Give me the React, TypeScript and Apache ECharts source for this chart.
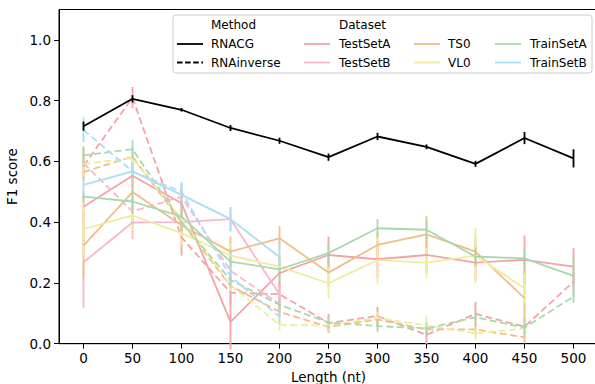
import React, { useEffect, useRef } from "react";
import * as echarts from "echarts";

const lengths = [0, 50, 100, 150, 200, 250, 300, 350, 400, 450, 500];
const yTicks = [0, 0.2, 0.4, 0.6, 0.8, 1.0];

const overallRNACG = [0.716, 0.806, 0.77, 0.71, 0.668, 0.614, 0.682, 0.648, 0.592, 0.677, 0.61];
const overallRNACGErr = [0.015, 0.012, 0.006, 0.01, 0.01, 0.012, 0.012, 0.008, 0.01, 0.02, 0.03];

const testSetA_RNACG = [0.451, 0.553, 0.462, 0.072, 0.232, 0.292, 0.278, 0.292, 0.267, 0.276, 0.254];
const testSetA_RNACGErr = [0.04, 0.04, 0.04, 0.09, 0.05, 0.06, 0.06, 0.06, 0.06, 0.08, 0.06];
const testSetA_RNAinv = [0.585, 0.81, 0.35, 0.168, 0.163, 0.068, 0.091, 0.029, 0.098, 0.056, 0.204];
const testSetA_RNAinvErr = [0.04, 0.035, 0.06, 0.04, 0.04, 0.03, 0.03, 0.03, 0.04, 0.03, 0.03];

const testSetB_RNACG = [0.268, 0.399, 0.4, 0.41, 0.163];
const testSetB_RNACGErr = [0.15, 0.055, 0.04, 0.04, 0.03];
const testSetB_RNAinv = [0.594, 0.435, 0.484, 0.24, 0.13];
const testSetB_RNAinvErr = [0.05, 0.04, 0.04, 0.04, 0.04];

const ts0_RNACG = [0.323, 0.499, 0.39, 0.303, 0.347, 0.234, 0.325, 0.36, 0.303, 0.15];
const ts0_RNACGErr = [0.11, 0.05, 0.04, 0.05, 0.04, 0.05, 0.04, 0.06, 0.05, 0.1];
const ts0_RNAinv = [0.565, 0.616, 0.4, 0.19, 0.105, 0.055, 0.08, 0.047, 0.047, 0.021];
const ts0_RNAinvErr = [0.03, 0.03, 0.03, 0.02, 0.02, 0.02, 0.02, 0.02, 0.02, 0.02];

const vl0_RNACG = [0.377, 0.422, 0.364, 0.29, 0.254, 0.199, 0.275, 0.267, 0.29, 0.182];
const vl0_RNACGErr = [0.1, 0.05, 0.04, 0.04, 0.04, 0.05, 0.08, 0.05, 0.09, 0.05];
const vl0_RNAinv = [0.592, 0.61, 0.41, 0.193, 0.062, 0.06, 0.085, 0.06, 0.034, 0.05];
const vl0_RNAinvErr = [0.05, 0.03, 0.03, 0.02, 0.02, 0.02, 0.02, 0.03, 0.02, 0.02];

const trainSetA_RNACG = [0.484, 0.468, 0.418, 0.27, 0.245, 0.298, 0.38, 0.375, 0.287, 0.281, 0.223];
const trainSetA_RNACGErr = [0.02, 0.04, 0.04, 0.04, 0.04, 0.03, 0.03, 0.03, 0.03, 0.03, 0.065];
const trainSetA_RNAinv = [0.62, 0.64, 0.4, 0.21, 0.128, 0.07, 0.058, 0.05, 0.087, 0.053, 0.155];
const trainSetA_RNAinvErr = [0.03, 0.03, 0.03, 0.02, 0.02, 0.02, 0.02, 0.02, 0.02, 0.02, 0.02];

const trainSetB_RNACG = [0.523, 0.567, 0.49, 0.41, 0.285];
const trainSetB_RNACGErr = [0.03, 0.03, 0.04, 0.04, 0.05];
const trainSetB_RNAinv = [0.704, 0.567, 0.5, 0.221, 0.089];
const trainSetB_RNAinvErr = [0.04, 0.03, 0.03, 0.03, 0.025];

const datasetNames = ["TestSetA", "TestSetB", "TS0", "VL0", "TrainSetA", "TrainSetB"];
const datasetColors = ["#F4A3A8", "#F7B6CF", "#F0BE88", "#F0EC9E", "#A9D8AE", "#ABDDF3"];

const FONT = "DejaVu Sans";

function pairs(vals: number[], errs: number[]) {
  return vals.map((v, i) => [lengths[i], v, errs[i]]);
}

function lineSeries(name: string, color: string, vals: number[], errs: number[], dashed: boolean, width: number, z: number) {
  const data = pairs(vals, errs);
  return [
    {
      type: "line",
      name,
      data: data.map((d) => [d[0], d[1]]),
      symbol: "none",
      lineStyle: { color, width, type: dashed ? [7, 3.5] : "solid" },
      z,
      silent: true,
    },
    {
      type: "custom",
      name: name + " err",
      data,
      z,
      silent: true,
      renderItem: (params: any, api: any) => {
        const x = api.value(0);
        const y = api.value(1);
        const e = api.value(2);
        const p1 = api.coord([x, y - e]);
        const p2 = api.coord([x, y + e]);
        return {
          type: "line",
          shape: { x1: p1[0], y1: p1[1], x2: p2[0], y2: p2[1] },
          style: { stroke: color, lineWidth: width },
        };
      },
    },
  ];
}

export default function App() {
  const ref = useRef<HTMLDivElement>(null);
  useEffect(() => {
    if (!ref.current) return;
    const chart = echarts.init(ref.current, null, { renderer: "svg" });

    const sets = [
      [testSetA_RNACG, testSetA_RNACGErr, testSetA_RNAinv, testSetA_RNAinvErr],
      [testSetB_RNACG, testSetB_RNACGErr, testSetB_RNAinv, testSetB_RNAinvErr],
      [ts0_RNACG, ts0_RNACGErr, ts0_RNAinv, ts0_RNAinvErr],
      [vl0_RNACG, vl0_RNACGErr, vl0_RNAinv, vl0_RNAinvErr],
      [trainSetA_RNACG, trainSetA_RNACGErr, trainSetA_RNAinv, trainSetA_RNAinvErr],
      [trainSetB_RNACG, trainSetB_RNACGErr, trainSetB_RNAinv, trainSetB_RNAinvErr],
    ];

    const series: any[] = [];
    sets.forEach((s, i) => {
      series.push(...lineSeries(datasetNames[i] + " RNACG", datasetColors[i], s[0], s[1], false, 1.8, 2));
      series.push(...lineSeries(datasetNames[i] + " RNAinverse", datasetColors[i], s[2], s[3], true, 1.8, 2));
    });
    series.push(...lineSeries("RNACG", "#000000", overallRNACG, overallRNACGErr, false, 1.8, 5));

    const rowY = [25, 44, 62.5];
    const legendText = (x: number, y: number, t: string) => ({
      type: "text",
      x,
      y,
      style: { text: t, font: `12px "${FONT}"`, fill: "#000", verticalAlign: "middle", align: "left" },
      z: 101,
    });
    const legendLine = (x: number, y: number, color: string, dashed: boolean) => ({
      type: "line",
      shape: { x1: x, y1: y, x2: x + 26, y2: y },
      style: { stroke: color, lineWidth: 1.8, lineDash: dashed ? [5.5, 2.6] : null },
      z: 101,
    });
    const graphics: any[] = [
      {
        type: "rect",
        shape: { x: 173, y: 15, width: 419, height: 58, r: 3 },
        style: { fill: "rgba(255,255,255,0.8)", stroke: "#cccccc", lineWidth: 1 },
        z: 100,
      },
      legendText(211, rowY[0], "Method"),
      legendLine(177, rowY[1], "#000", false),
      legendText(211, rowY[1], "RNACG"),
      legendLine(177, rowY[2], "#000", true),
      legendText(211, rowY[2], "RNAinverse"),
      legendText(339, rowY[0], "Dataset"),
    ];
    const colHandles = [304, 304, 414, 414, 495, 495];
    const colTexts = [339, 339, 448, 448, 530, 530];
    datasetNames.forEach((n, i) => {
      const y = rowY[1 + (i % 2)];
      graphics.push(legendLine(colHandles[i], y, datasetColors[i], false));
      graphics.push(legendText(colTexts[i], y, n));
    });

    chart.setOption({
      animation: false,
      backgroundColor: "#ffffff",
      grid: {
        left: 59,
        top: 9.5,
        bottom: 40.3,
        right: -3,
        show: true,
        borderColor: "#000",
        borderWidth: 1,
        containLabel: false,
        outerBoundsMode: "none",
      },
      xAxis: {
        type: "value",
        min: -25,
        max: 525,
        name: "Length (nt)",
        nameLocation: "middle",
        nameGap: 26,
        nameTextStyle: { fontFamily: FONT, fontSize: 13.5, color: "#000" },
        axisLine: { show: true, onZero: false, lineStyle: { color: "#000", width: 1 } },
        axisTick: { show: true, length: 5, lineStyle: { color: "#000" }, customValues: lengths },
        axisLabel: {
          fontFamily: FONT,
          fontSize: 13.5,
          color: "#000",
          margin: 7,
          customValues: lengths,
        },
        splitLine: { show: false },
      },
      yAxis: {
        type: "value",
        min: 0,
        max: 1.1,
        name: "F1 score",
        nameLocation: "middle",
        nameGap: 38,
        nameRotate: 90,
        nameTextStyle: { fontFamily: FONT, fontSize: 13.5, color: "#000" },
        axisLine: { show: true, onZero: false, lineStyle: { color: "#000", width: 1 } },
        axisTick: { show: true, length: 5, lineStyle: { color: "#000" }, customValues: yTicks },
        axisLabel: {
          fontFamily: FONT,
          fontSize: 13.5,
          color: "#000",
          margin: 8,
          customValues: yTicks,
          formatter: (v: number) => v.toFixed(1),
        },
        splitLine: { show: false },
      },
      series,
      graphic: graphics,
    });
    return () => chart.dispose();
  }, []);
  return (
    <div
      ref={ref}
      style={{ position: "fixed", left: 0, top: 0, width: 595, height: 384, overflow: "hidden" }}
    />
  );
}
